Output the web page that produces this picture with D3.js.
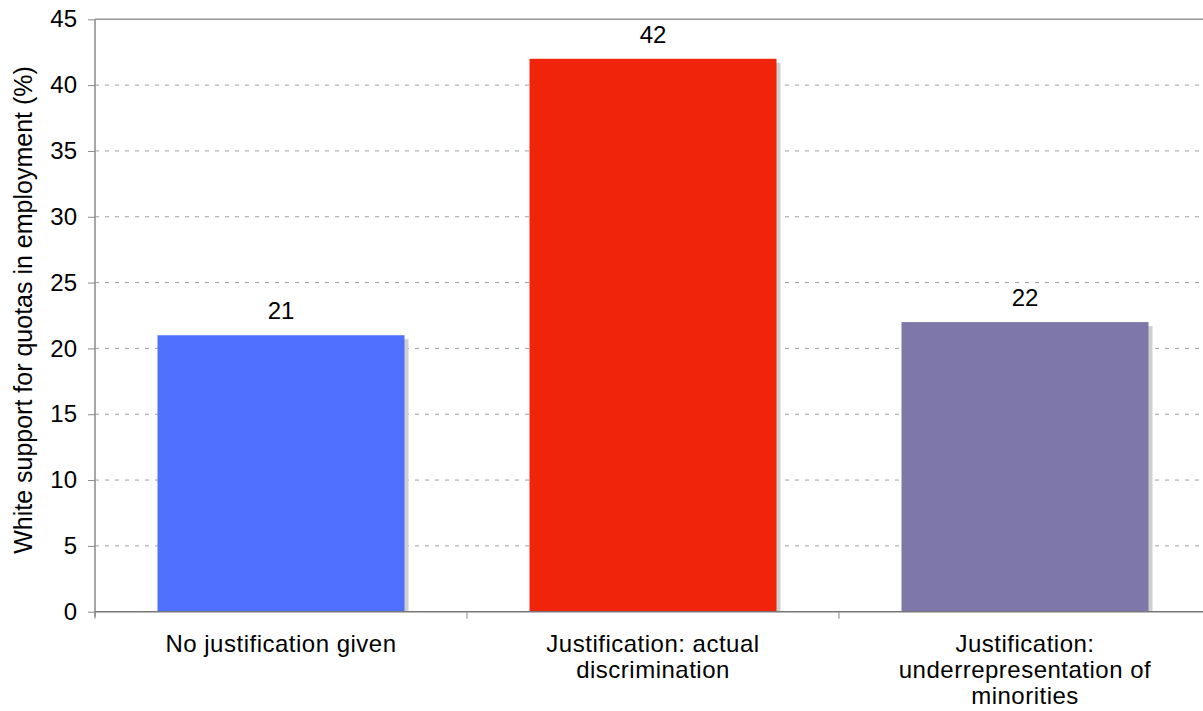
<!DOCTYPE html>
<html>
<head>
<meta charset="utf-8">
<script src="https://cdn.jsdelivr.net/npm/d3@7"></script>
<style>
  html, body { margin: 0; padding: 0; background: #fff; }
  svg { display: block; font-family: "Liberation Sans", Arial, Helvetica, sans-serif; }
</style>
</head>
<body>
<svg id="chart" width="1203" height="711"></svg>
<script>
// Categories (each may wrap onto several lines)
const categories = ["No justification given", "Justification: actual discrimination", "Justification: underrepresentation of minorities"];
const categoryLines = [
  ["No justification given"],
  ["Justification: actual", "discrimination"],
  ["Justification:", "underrepresentation of", "minorities"]
];
const values = [21, 42, 22];
const barColors = ["#4f71fe", "#f0240a", "#7e77aa"];
const yTicks = [0, 5, 10, 15, 20, 25, 30, 35, 40, 45];
const yTitle = "White support for quotas in employment (%)";

const svg = d3.select("#chart");
const plotLeft = 95, plotRight = 1211, plotTop = 19.3, plotBottom = 611.7;
const fontSize = 24;

const x = d3.scaleBand().domain(categories).range([plotLeft, plotRight]).paddingInner(0).paddingOuter(0);
const y = d3.scaleLinear().domain([0, 45]).range([plotBottom, plotTop]);
const barW = x.bandwidth() * 0.664;

// Horizontal dashed grid lines
svg.append("g").selectAll("line")
  .data(yTicks.filter(d => d > 0 && d < 45))
  .join("line")
  .attr("x1", plotLeft).attr("x2", plotRight)
  .attr("y1", d => y(d)).attr("y2", d => y(d))
  .attr("stroke", "#a0a0a0").attr("stroke-width", 1)
  .attr("stroke-dasharray", "4,6");

// Top frame line
svg.append("line")
  .attr("x1", plotLeft).attr("x2", plotRight)
  .attr("y1", y(45)).attr("y2", y(45))
  .attr("stroke", "#9a9a9a").attr("stroke-width", 1.5);

// Bar shadows
svg.append("g").selectAll("rect")
  .data(values)
  .join("rect")
  .attr("x", (d, i) => x(categories[i]) + (x.bandwidth() - barW) / 2 + 4)
  .attr("y", d => y(d) + 4)
  .attr("width", barW)
  .attr("height", d => y(0) - y(d) - 4)
  .attr("fill", "#cfcfcf");

// Bars
svg.append("g").selectAll("rect")
  .data(values)
  .join("rect")
  .attr("x", (d, i) => x(categories[i]) + (x.bandwidth() - barW) / 2)
  .attr("y", d => y(d))
  .attr("width", barW)
  .attr("height", d => y(0) - y(d))
  .attr("fill", (d, i) => barColors[i]);

// Value labels
svg.append("g").selectAll("text")
  .data(values)
  .join("text")
  .attr("x", (d, i) => x(categories[i]) + x.bandwidth() / 2)
  .attr("y", d => y(d) - 16)
  .attr("text-anchor", "middle")
  .attr("font-size", fontSize)
  .attr("fill", "#000")
  .text(d => d);

// Y axis
const yAxis = d3.axisLeft(y).tickValues(yTicks).tickSize(7).tickPadding(11);
const gy = svg.append("g").attr("transform", `translate(${plotLeft},0)`).call(yAxis);
gy.select(".domain").attr("stroke", "#8a8a8a").attr("stroke-width", 1.5)
  .attr("d", `M0,${plotTop}V${plotBottom + 5}`);
gy.selectAll(".tick line").attr("stroke", "#8a8a8a").attr("stroke-width", 1);
gy.selectAll(".tick text").attr("font-size", fontSize).attr("fill", "#000")
  .attr("font-family", "Liberation Sans, Arial, sans-serif");

// X axis baseline and category boundary ticks
svg.append("line")
  .attr("x1", plotLeft).attr("x2", plotRight)
  .attr("y1", y(0)).attr("y2", y(0))
  .attr("stroke", "#777").attr("stroke-width", 1.5);
svg.append("g").selectAll("line")
  .data(categories)
  .join("line")
  .attr("x1", d => x(d)).attr("x2", d => x(d))
  .attr("y1", y(0)).attr("y2", y(0) + 7)
  .attr("stroke", "#8a8a8a").attr("stroke-width", 1);

// Category labels
const cat = svg.append("g").selectAll("text")
  .data(categories)
  .join("text")
  .attr("text-anchor", "middle")
  .attr("font-size", fontSize)
  .attr("letter-spacing", 0.5)
  .attr("fill", "#000");
cat.each(function(d, i) {
  const t = d3.select(this);
  categoryLines[i].forEach((line, j) => {
    t.append("tspan")
      .attr("x", x(d) + x.bandwidth() / 2)
      .attr("y", 651.5 + j * 26)
      .text(line);
  });
});

// Y axis title
svg.append("text")
  .attr("transform", `translate(32,310) rotate(-90)`)
  .attr("text-anchor", "middle")
  .attr("font-size", 25)
  .attr("fill", "#000")
  .text(yTitle);
</script>
</body>
</html>
